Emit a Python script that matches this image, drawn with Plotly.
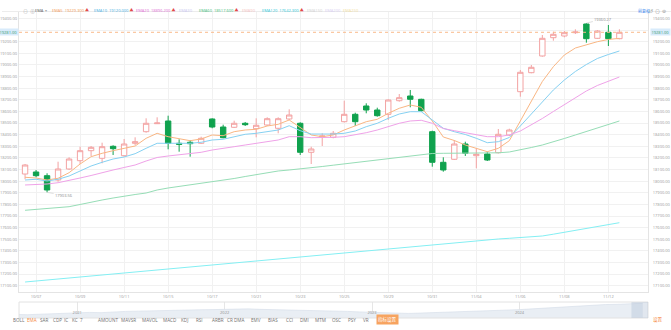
import pandas as pd
import plotly.graph_objects as go

# ---------------- data ----------------
tick_labels = ["10/07", "10/09", "10/11", "10/15", "10/17", "10/21", "10/23",
               "10/25", "10/29", "10/31", "11/04", "11/06", "11/08", "11/12"]

bar_open = [18061.4, 18078.7, 18046.8, 18009.8, 18104.5, 18175.9, 18262.0, 18196.6, 18299.8, 18219.0,
            18325.7, 18425.5, 18494.3, 18517.6, 18325.7, 18334.3, 18325.7, 18534.8, 18465.9, 18463.4,
            18497.8, 18451.3, 18483.1, 18454.8, 18534.8, 18497.8, 18248.2, 18382.5, 18377.3, 18511.5,
            18575.2, 18646.7, 18612.2, 18575.2, 18692.3, 18732.7, 18704.3, 18425.5, 18162.1, 18188.0,
            18319.6, 18219.0, 18233.6, 18244.8, 18397.1, 18769.7, 18933.2, 19077.0, 19234.4, 19249.1,
            19277.5, 19352.3, 19229.3, 19280.9, 19225.8]
bar_high = [18147.5, 18095.9, 18067.5, 18167.3, 18205.2, 18296.4, 18302.4, 18330.8, 18308.5, 18362.7,
            18377.3, 18540.8, 18549.4, 18563.2, 18360.1, 18354.1, 18382.5, 18540.8, 18485.7, 18520.2,
            18509.0, 18540.8, 18549.4, 18549.4, 18618.3, 18506.4, 18296.4, 18411.7, 18431.5, 18692.3,
            18589.0, 18669.9, 18632.0, 18704.3, 18749.9, 18784.4, 18709.5, 18434.1, 18205.2, 18354.1,
            18339.4, 18282.6, 18253.4, 18448.7, 18451.3, 18956.5, 18999.5, 19257.7, 19286.1, 19292.1,
            19306.7, 19360.27, 19300.7, 19343.7, 19306.7]
bar_low = [18015.9, 18033.1, 17903.56, 17995.2, 18095.9, 18147.5, 18216.4, 18153.5, 18225.0, 18210.3,
           18311.0, 18416.9, 18491.8, 18274.0, 18253.4, 18210.3, 18319.6, 18454.8, 18368.7, 18457.3,
           18474.5, 18377.3, 18474.5, 18411.7, 18526.2, 18225.0, 18147.5, 18302.4, 18368.7, 18505.0,
           18474.5, 18583.8, 18554.6, 18526.2, 18683.7, 18635.5, 18597.6, 18124.3, 18081.3, 18181.9,
           18216.4, 18110.5, 18173.3, 18238.0, 18388.5, 18726.7, 18928.1, 19070.9, 19208.6, 19237.9,
           19266.3, 19191.4, 19223.3, 19163.0, 19220.7]
bar_close = [18138.9, 18046.8, 17923.8, 18104.5, 18190.5, 18262.0, 18291.2, 18296.4, 18279.2, 18319.6,
             18339.4, 18497.8, 18500.4, 18325.7, 18317.0, 18322.2, 18368.7, 18465.9, 18373.9, 18497.8,
             18485.7, 18480.6, 18537.4, 18537.4, 18569.2, 18248.2, 18276.6, 18388.5, 18411.7, 18575.2,
             18511.5, 18612.2, 18563.2, 18698.3, 18718.1, 18704.3, 18606.2, 18162.1, 18095.9, 18319.6,
             18239.6, 18231.0, 18181.9, 18403.1, 18440.1, 18936.7, 18979.7, 19229.3, 19263.7, 19277.5,
             19283.5, 19225.8, 19292.1, 19225.8, 19281.0]

ema5 = [18033.1, 18027.0, 18009.8, 18024.5, 18072.6, 18147.5, 18210.3, 18239.6, 18262.0, 18282.6,
        18302.4, 18368.7, 18411.7, 18382.5, 18362.7, 18348.0, 18362.7, 18397.1, 18391.1, 18425.5,
        18440.1, 18446.1, 18474.5, 18489.2, 18526.2, 18463.4, 18397.1, 18382.5, 18397.1, 18440.1,
        18474.5, 18511.5, 18532.2, 18583.8, 18626.9, 18655.3, 18635.5, 18517.6, 18379.9, 18349.8,
        18311.0, 18282.6, 18253.4, 18282.6, 18348.0, 18517.6, 18685.4, 18857.5, 18984.9, 19085.6,
        19145.8, 19175.9, 19200.0, 19219.0, 19229.3]
ema10 = [18009.8, 18015.9, 18001.2, 18015.9, 18044.2, 18089.9, 18130.3, 18162.1, 18190.5, 18207.8,
         18236.2, 18282.6, 18325.7, 18325.7, 18325.7, 18325.7, 18334.3, 18354.1, 18360.1, 18382.5,
         18403.1, 18411.7, 18425.5, 18440.1, 18477.1, 18434.1, 18405.7, 18403.1, 18405.7, 18411.7,
         18431.5, 18468.5, 18497.8, 18540.8, 18577.8, 18597.6, 18597.6, 18526.2, 18454.8, 18425.5,
         18401.4, 18368.7, 18330.8, 18339.4, 18375.6, 18474.5, 18577.8, 18681.1, 18784.4, 18870.4,
         18943.6, 19003.8, 19055.4, 19089.9, 19120.0]
ema20 = [17966.8, 17971.1, 17975.4, 17986.6, 18003.8, 18027.0, 18048.5, 18074.4, 18095.9, 18117.4,
         18138.9, 18173.3, 18203.5, 18216.4, 18225.0, 18233.6, 18248.2, 18268.0, 18279.2, 18296.4,
         18311.0, 18325.7, 18339.4, 18354.1, 18382.5, 18382.5, 18373.9, 18373.9, 18377.3, 18382.5,
         18397.1, 18416.9, 18440.1, 18468.5, 18497.8, 18517.6, 18523.6, 18497.8, 18453.0, 18434.1,
         18416.9, 18397.1, 18382.5, 18382.5, 18397.1, 18431.5, 18483.1, 18539.1, 18599.3, 18659.6,
         18719.8, 18775.8, 18823.1, 18861.8, 18896.2]
ema60 = [17749.1, 17756.0, 17764.5, 17773.2, 17780.0, 17799.0, 17820.5, 17837.7, 17854.9, 17872.1,
         17885.0, 17897.9, 17923.8, 17941.0, 17953.9, 17966.8, 17979.7, 17992.6, 18005.5, 18022.7,
         18039.9, 18057.2, 18074.4, 18087.3, 18095.9, 18104.5, 18114.8, 18126.0, 18137.2, 18148.4,
         18159.6, 18170.8, 18181.9, 18194.0, 18205.2, 18216.4, 18227.6, 18237.9, 18239.6, 18239.6,
         18240.5, 18240.5, 18242.2, 18243.9, 18250.8, 18268.0, 18289.5, 18311.0, 18336.8, 18367.0,
         18397.1, 18427.2, 18457.3, 18487.5, 18517.6]
ema120 = [17132.0, 17140.6, 17149.2, 17157.8, 17166.4, 17175.0, 17184.5, 17193.1, 17201.7, 17210.3,
          17219.8, 17228.4, 17237.0, 17245.6, 17255.1, 17263.7, 17272.3, 17281.8, 17290.4, 17299.0,
          17307.6, 17317.0, 17325.6, 17334.2, 17342.9, 17351.5, 17360.1, 17368.7, 17377.3, 17386.8,
          17395.4, 17404.0, 17413.4, 17422.0, 17430.6, 17439.2, 17447.8, 17456.4, 17465.1, 17473.7,
          17482.3, 17489.2, 17495.2, 17502.1, 17508.1, 17515.0, 17521.0, 17527.9, 17543.4, 17558.9,
          17576.1, 17592.4, 17608.8, 17626.0, 17642.3]

# monthly closes for the overview navigator (Aug 2020 - Nov 2024)
nav_close = [14900, 14800, 15000, 15200, 15350,
             15500, 15700, 15600, 15900, 16100, 16200, 16350, 16500, 16450, 16600, 16750, 16800,
             17000, 17200, 17100, 16900, 16800, 16700, 16750, 16600, 16400, 16300, 16100, 15900,
             15700, 15500, 15350, 15300, 15450, 15600, 15800, 15900, 16100, 16200, 16400, 16600,
             16800, 17100, 17400, 17600, 17900, 18200, 18500, 18800, 18900, 19100, 19300]
nav_years = ["2021", "2022", "2023", "2024"]

indicator_tabs = ["BOLL", "EMA", "SAR", "CDP", "IC", "KC", "7", "AMOUNT", "MAVSR", "MAVOL",
                  "MACD", "KDJ", "RSI", "ARBR", "CR", "DMA", "EMV", "BIAS", "CCI", "DMI",
                  "MTM", "OSC", "PSY", "VR", "指标设置"]
active_tab = "EMA"

# ---------------- layout helpers ----------------
W, H = 671, 330
M_T, M_B, M_L, M_R = 12, 0, 17, 23


def py(p):
    """pixel row -> paper y"""
    return (H - M_B - p) / (H - M_T - M_B)


def px(p):
    """pixel column -> paper x"""
    return (p - M_L) / (W - M_L - M_R)


UP = "#f3a2a2"
DOWN = "#10a24e"
GRID = "#f1f1f1"
BORDER = "#e4e4e4"
TXT = "#9a9a9a"
FONT = "Open Sans, Noto Sans CJK SC, sans-serif"

n = len(bar_close)
xs = list(range(n))
tick_idx = [1 + 4 * k for k in range(len(tick_labels))]
y_range = [17045.9, 19455.6]
last = bar_close[-1]

# price ticks every 100; the one hidden behind the last-price tag carries no text
y_ticks = list(range(17100, 19401, 100))
y_ticktext = ["" if abs(v - last) < 40 else f"{v:.2f}" for v in y_ticks]

ema_series = [
    ("EMA5", ema5, "#f9b683", "#f39a55"),
    ("EMA10", ema10, "#86d1f2", "#45aee3"),
    ("EMA20", ema20, "#efa2e8", "#e06bd3"),
    ("EMA60", ema60, "#96ddb6", "#3fbb7a"),
    ("EMA120", ema120, "#84eff3", "#2cc8d8"),
]

fig = go.Figure()

fig.add_trace(go.Candlestick(
    x=xs, open=bar_open, high=bar_high, low=bar_low, close=bar_close,
    increasing=dict(line=dict(color=UP, width=1), fillcolor="#ffffff"),
    decreasing=dict(line=dict(color=DOWN, width=1), fillcolor=DOWN),
    whiskerwidth=0, showlegend=False, hoverinfo="skip",
    xaxis="x", yaxis="y",
))

for name, vals, col, _ in ema_series:
    fig.add_trace(go.Scatter(
        x=xs, y=vals, mode="lines", name=name,
        line=dict(color=col, width=1), showlegend=False, hoverinfo="skip",
        xaxis="x", yaxis="y2",
    ))

nav_dates = pd.date_range("2020-08-01", periods=len(nav_close), freq="MS")
fig.add_trace(go.Scatter(
    x=nav_dates, y=nav_close, mode="lines", fill="tozeroy",
    line=dict(color="#d4dce7", width=0.6), fillcolor="#e9eef4",
    showlegend=False, hoverinfo="skip", xaxis="x3", yaxis="y3",
))

tickfont = dict(size=4, color=TXT, family=FONT)

fig.update_layout(
    width=W, height=H,
    margin=dict(l=M_L, r=M_R, t=M_T, b=M_B, pad=0),
    paper_bgcolor="white", plot_bgcolor="white",
    font=dict(family=FONT, size=4, color=TXT),
    showlegend=False,
    xaxis=dict(domain=[0, 1], anchor="y", range=[-0.55, 56.6],
               tickvals=tick_idx, ticktext=tick_labels, ticks="",
               showgrid=True, gridcolor=GRID, gridwidth=1, zeroline=False,
               showline=True, linecolor=BORDER, mirror=True,
               tickfont=tickfont, rangeslider=dict(visible=False)),
    yaxis=dict(domain=[py(292), 1], anchor="x", range=y_range, side="right",
               tickvals=y_ticks, ticktext=y_ticktext, ticks="",
               showgrid=True, gridcolor=GRID, zeroline=False,
               showline=True, linecolor=BORDER, mirror=True,
               tickfont=tickfont, ticklabelstandoff=3),
    yaxis2=dict(overlaying="y", anchor="x", side="left", range=y_range,
                tickvals=y_ticks, ticktext=y_ticktext, ticks="",
                showgrid=False, zeroline=False, showline=False,
                tickfont=tickfont, ticklabelstandoff=1),
    xaxis3=dict(domain=[0, 1], anchor="y3", type="date",
                range=["2020-08-10", "2024-11-14"],
                tickvals=[f"{y}-01-01" for y in nav_years], ticktext=nav_years,
                ticklabelposition="inside", ticks="",
                showgrid=True, gridcolor="#e6e6e6", zeroline=False, showline=False,
                tickfont=dict(size=4, color="#8f8f8f", family=FONT)),
    yaxis3=dict(domain=[py(318), py(302)], anchor="x3", range=[13500, 19800],
                visible=False),
)

shapes = []
annotations = []

# last price guide and tags on both scales
shapes.append(dict(type="line", xref="paper", yref="y", x0=0, x1=1, y0=last, y1=last,
                   line=dict(color="#f9b98a", width=1, dash="dot")))
for xa, anchor, shift in [(1, "left", 2), (0, "right", 0)]:
    annotations.append(dict(xref="paper", yref="y", x=xa, y=last, xanchor=anchor, xshift=shift,
                            text=f"{last:.2f}", showarrow=False, bgcolor="#d8ebfb",
                            borderpad=0.5, font=dict(size=4, color="#3a9c72", family=FONT)))

# highest / lowest marks
imax = max(range(n), key=lambda i: bar_high[i])
imin = min(range(n), key=lambda i: bar_low[i])
annotations.append(dict(x=imax, y=bar_high[imax], xref="x", yref="y",
                        text=f"{bar_high[imax]:.2f}", showarrow=True, arrowhead=0,
                        arrowwidth=0.6, arrowcolor="#c9c9c9", ax=17, ay=-4,
                        font=dict(size=4, color="#8a8a8a", family=FONT)))
annotations.append(dict(x=imin, y=bar_low[imin], xref="x", yref="y",
                        text=f"{bar_low[imin]:.2f}", showarrow=True, arrowhead=0,
                        arrowwidth=0.6, arrowcolor="#c9c9c9", ax=17, ay=3,
                        font=dict(size=4, color="#8a8a8a", family=FONT)))

# header row
hy = py(6)
shapes.append(dict(type="line", xref="paper", yref="paper", x0=px(0), x1=px(W),
                   y0=py(11.5), y1=py(11.5), line=dict(color="#ececec", width=1)))
for glyph, gx in [("⊖", 19), ("⊕", 26)]:
    annotations.append(dict(xref="paper", yref="paper", x=px(gx), y=hy, text=glyph,
                            showarrow=False, font=dict(size=5, color="#b5b5b5")))
annotations.append(dict(xref="paper", yref="paper", x=px(31), y=hy, xanchor="left",
                        text="EMA  <span style='color:#aaaaaa'>▾</span>", showarrow=False,
                        font=dict(size=4, color="#555555", family=FONT)))
header_left = {"EMA5": 48, "EMA10": 90, "EMA20": 132, "EMA60": 196, "EMA120": 259}
for name, vals, _, tcol in ema_series:
    annotations.append(dict(
        xref="paper", yref="paper", x=px(header_left[name]), y=hy, xanchor="left",
        text=f"{name}  {vals[-1]:.3f} <span style='color:#e24a4a'>▲</span>",
        showarrow=False, font=dict(size=4, color=tcol, family=FONT)))
for name, gx, col in [("EMA30", 176, "#c9c7f0"), ("EMA90", 239, "#f4c3c3"),
                      ("EMA150", 304, "#d2d2d2"), ("EMA200", 322, "#d8cff1"),
                      ("EMA250", 340, "#f1e0a2")]:
    annotations.append(dict(xref="paper", yref="paper", x=px(gx), y=hy, xanchor="left",
                            text=name, showarrow=False,
                            font=dict(size=4, color=col, family=FONT)))
annotations.append(dict(xref="paper", yref="paper", x=px(636), y=hy, xanchor="left",
                        text="前复权", showarrow=False,
                        font=dict(size=4, color="#3d8af0", family=FONT)))
for glyph, gx in [("↺", 655), ("⊙", 662), ("⊚", 668)]:
    annotations.append(dict(xref="paper", yref="paper", x=px(gx), y=hy, text=glyph,
                            showarrow=False, font=dict(size=5, color="#9a9a9a")))

# navigator frame and selected window
shapes.append(dict(type="rect", xref="paper", yref="paper", x0=0, x1=1,
                   y0=py(318), y1=py(302), line=dict(color="#e2e2e2", width=1)))
shapes.append(dict(type="rect", xref="x3", yref="paper", x0="2024-10-04", x1="2024-11-14",
                   y0=py(318), y1=py(302), fillcolor="rgba(170,186,208,0.35)",
                   line=dict(width=0), layer="above"))

# indicator tabs
tab_x = [8.5, 23, 36.5, 49.5, 60, 68, 76, 94, 117.5, 138.5, 159.5, 177.5, 192.5, 209,
         224, 238, 255, 271.5, 288, 303.5, 319.5, 336, 351.5, 365, 386.5]
ty = py(325)
for label, tx in zip(indicator_tabs, tab_x):
    if label == "指标设置":
        annotations.append(dict(xref="paper", yref="paper", x=px(tx), y=ty, text=label,
                                showarrow=False, bgcolor="#f7a35f", borderpad=1,
                                font=dict(size=4.5, color="white", family=FONT)))
    else:
        col = "#f5873b" if label == active_tab else "#6f6f6f"
        annotations.append(dict(xref="paper", yref="paper", x=px(tx), y=ty, text=label,
                                showarrow=False, font=dict(size=4.6, color=col, family=FONT)))
annotations.append(dict(xref="paper", yref="paper", x=px(665), y=ty, text="设置",
                        showarrow=False, font=dict(size=4.5, color="#f5873b", family=FONT)))

fig.update_layout(shapes=shapes, annotations=annotations)

fig.write_html("out.html")
